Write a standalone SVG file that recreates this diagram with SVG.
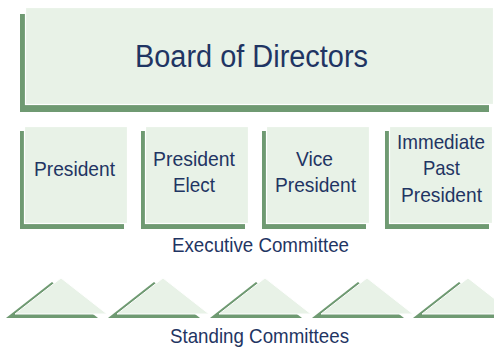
<svg xmlns="http://www.w3.org/2000/svg" width="494" height="348" viewBox="0 0 494 348">
  <style>
    .shadow { fill: #6f9a72; }
    .face { fill: #e8f2e7; stroke: #ffffff; stroke-width: 1.2; }
    .tri { fill: #e8f2e7; stroke: #ffffff; stroke-width: 1; }
    .lbl { font-family: "Liberation Sans", Arial, sans-serif; fill: #1f3563; font-size: 21px; }
    .big { font-size: 31px; }
  </style>
  <rect width="494" height="348" fill="#ffffff"/>
  <g id="board">
    <rect class="shadow" x="20" y="14" width="469" height="98"/>
    <rect class="face" x="25.5" y="7.5" width="468" height="97"/>
    <text class="lbl big" x="135" y="67" textLength="233" lengthAdjust="spacingAndGlyphs">Board of Directors</text>
  </g>
  <g id="president">
    <rect class="shadow" x="20" y="131" width="104" height="98"/>
    <rect class="face" x="24.5" y="126.5" width="103" height="97"/>
    <text class="lbl" x="34" y="176" textLength="81" lengthAdjust="spacingAndGlyphs">President</text>
  </g>
  <g id="president-elect">
    <rect class="shadow" x="141" y="131" width="104" height="98"/>
    <rect class="face" x="145.5" y="126.5" width="103" height="97"/>
    <text class="lbl" x="153" y="166" textLength="82" lengthAdjust="spacingAndGlyphs">President</text>
    <text class="lbl" x="173" y="192" textLength="42" lengthAdjust="spacingAndGlyphs">Elect</text>
  </g>
  <g id="vice-president">
    <rect class="shadow" x="262" y="131" width="104" height="98"/>
    <rect class="face" x="266.5" y="126.5" width="103" height="97"/>
    <text class="lbl" x="296" y="166" textLength="37" lengthAdjust="spacingAndGlyphs">Vice</text>
    <text class="lbl" x="275" y="192" textLength="81" lengthAdjust="spacingAndGlyphs">President</text>
  </g>
  <g id="immediate-past-president">
    <rect class="shadow" x="385" y="131" width="104" height="98"/>
    <rect class="face" x="389.5" y="126.5" width="103" height="97"/>
    <text class="lbl" x="397" y="149" textLength="88" lengthAdjust="spacingAndGlyphs">Immediate</text>
    <text class="lbl" x="423" y="175" textLength="37" lengthAdjust="spacingAndGlyphs">Past</text>
    <text class="lbl" x="401" y="202" textLength="81" lengthAdjust="spacingAndGlyphs">President</text>
  </g>
  <text id="executive-committee" class="lbl" x="172" y="252" textLength="177" lengthAdjust="spacingAndGlyphs">Executive Committee</text>
  <g id="standing-committees">
    <g id="sc1">
      <polygon class="shadow" points="6,318 52,282 98,318"/>
      <polygon class="tri" points="15,314 61,278 107,314"/>
    </g>
    <g id="sc2">
      <polygon class="shadow" points="108,318 154,282 200,318"/>
      <polygon class="tri" points="117,314 163,278 209,314"/>
    </g>
    <g id="sc3">
      <polygon class="shadow" points="210,318 256,282 302,318"/>
      <polygon class="tri" points="219,314 265,278 311,314"/>
    </g>
    <g id="sc4">
      <polygon class="shadow" points="312,318 358,282 404,318"/>
      <polygon class="tri" points="321,314 367,278 413,314"/>
    </g>
    <g id="sc5">
      <polygon class="shadow" points="413,318 459,282 505,318"/>
      <polygon class="tri" points="422,314 468,278 514,314"/>
    </g>
    <text class="lbl" x="170" y="343" textLength="179" lengthAdjust="spacingAndGlyphs">Standing Committees</text>
  </g>
  <g id="connectors"/>
</svg>
